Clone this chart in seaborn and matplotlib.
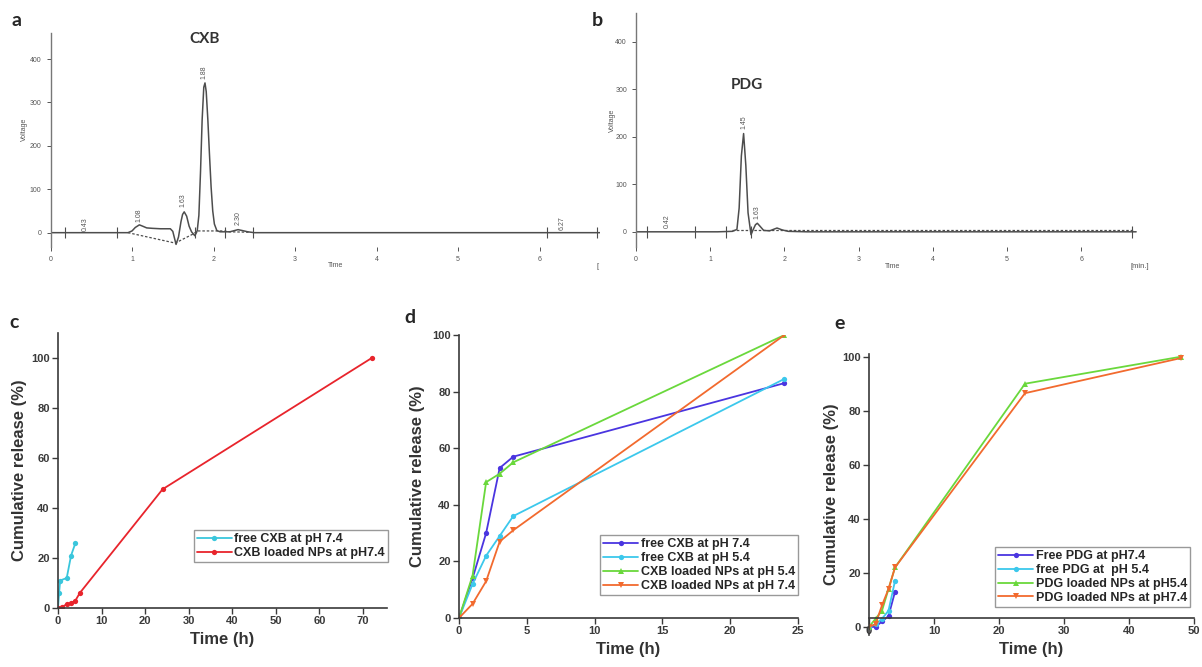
import matplotlib
matplotlib.use("Agg")
import seaborn as sns
import matplotlib.pyplot as plt

sns.set_style("ticks")
plt.rcParams['font.family'] = ['Liberation Sans', 'DejaVu Sans']

W, H = 1202, 667

# a: CXB chromatogram
cxb_time = [0, 0.95, 1.00, 1.04, 1.09, 1.13, 1.18, 1.25, 1.35, 1.47, 1.50, 1.54, 1.57, 1.60,
            1.62, 1.64, 1.67, 1.70, 1.73, 1.77, 1.79, 1.80, 1.82, 1.84, 1.86, 1.88, 1.895,
            1.91, 1.93, 1.95, 1.97, 1.99, 2.01, 2.04, 2.08, 2.20, 2.26, 2.30, 2.35, 2.42, 2.50, 6.74]
cxb_volt = [0, 0, 4, 12, 18, 15, 11, 10, 9, 9, 3, -27, -10, 25,
            42, 48, 38, 15, 2, -7, 0, 5, 40, 140, 260, 335, 345,
            325, 260, 180, 105, 50, 20, 5, 2, 2, 5, 7, 5, 2, 0, 0]
cxb_base_time = [0.95, 1.53, 1.76, 1.80, 2.12, 2.20, 2.45]
cxb_base_volt = [0, -24, -2, 4, 4, 2, 1]
cxb_marks = [0.18, 0.81, 1.77, 2.14, 2.48, 6.09, 6.70]
cxb_peaks = [0.43, 1.08, 1.63, 1.88, 2.30, 6.27]
cxb_peak_h = [5, 25, 58, 355, 17, 7]

# b: PDG chromatogram
pdg_time = [0, 1.10, 1.30, 1.36, 1.39, 1.42, 1.45, 1.48, 1.51, 1.55, 1.58, 1.61, 1.635,
            1.67, 1.72, 1.80, 1.90, 1.97, 2.05, 2.30, 6.74]
pdg_volt = [0, 0, 1, 5, 50, 160, 207, 140, 40, -6, 5, 15, 18,
            12, 3, 2, 8, 4, 1, 0, 0]
pdg_base_time = [1.30, 6.70]
pdg_base_volt = [3, 3]
pdg_marks = [0.15, 0.79, 1.21, 1.55, 6.69]
pdg_peaks = [0.42, 1.45, 1.63]
pdg_peak_h = [7, 217, 26]

# c: CXB release at pH 7.4
c_free_t = [0, 0.25, 0.5, 2, 3, 4]
c_free_y = [0, 6, 11, 12, 21, 26]
c_np_t = [0, 1, 2, 3, 4, 5, 24, 72]
c_np_y = [0, 0.5, 1.5, 2, 3, 6, 47.5, 100]

# d: CXB release at two pH
d_t = [0, 1, 2, 3, 4, 24]
d_free_74 = [0, 14, 30, 53, 57, 83]
d_free_54 = [0, 12, 22, 29, 36, 84.5]
d_np_54 = [0, 15, 48, 51, 55, 100]
d_np_74 = [0, 5, 13, 27, 31, 100]

# e: PDG release
e_free_t = [0, 1, 2, 3, 4]
e_free_74 = [0, 0, 2, 4, 13]
e_free_54 = [0, 1, 3, 6, 17]
e_np_t = [0, 1, 2, 3, 4, 24, 48]
e_np_54 = [0, 3, 6, 14, 22, 90, 100]
e_np_74 = [0, 1, 8, 14, 22, 86.5, 99.5]

BLUE, CYAN, GREEN, ORANGE, RED = '#4a35e0', '#3cc8ec', '#6ad83c', '#f26a2e', '#e8242c'
GREYLINE = '#4d4d4d'


def box(left, top, right, bottom):
    return [left / W, 1 - bottom / H, (right - left) / W, (bottom - top) / H]


fig = plt.figure(figsize=(W / 100, H / 100), dpi=100)


def chromatogram(ax, t, v, bt, bv, marks, peaks, heights, xmax, ymin, ymax):
    sns.lineplot(x=t, y=v, ax=ax, color=GREYLINE, lw=1.1, estimator=None, sort=False)
    sns.lineplot(x=bt, y=bv, ax=ax, color=GREYLINE, lw=0.9, estimator=None, sort=False,
                 linestyle=(0, (2, 1.5)))
    ax.vlines(marks, -12, 12, color=GREYLINE, lw=0.8)
    for p, h in zip(peaks, heights):
        ax.text(p, h, f"{p:.2f}", rotation=90, ha='center', va='bottom', fontsize=5, color='#555')
    ax.set_xlim(0, xmax)
    ax.set_ylim(ymin, ymax)
    ax.set_xticks(range(7))
    ax.set_yticks([0, 100, 200, 300, 400])
    for s in ['top', 'right', 'bottom']:
        ax.spines[s].set_visible(False)
    ax.spines['left'].set_color('#777')
    ax.spines['left'].set_linewidth(1.0)
    ax.tick_params(labelsize=5, colors='#555', length=3, width=0.7)
    ax.set_xlabel('Time', fontsize=5, color='#555')
    ax.set_ylabel('Voltage', fontsize=5, color='#555')


ax_a = fig.add_axes(box(50.5, 33, 600, 247))
chromatogram(ax_a, cxb_time, cxb_volt, cxb_base_time, cxb_base_volt, cxb_marks,
             cxb_peaks, cxb_peak_h, 6.74, -33, 460)
ax_a.text(1.89, 446, 'CXB', ha='center', va='center', fontsize=11, fontweight='bold',
          color='#333', family=['Lato', 'DejaVu Sans'])
ax_a.xaxis.set_label_coords(0.518, -0.07)
ax_a.yaxis.set_label_coords(-0.041, 0.55)

ax_b = fig.add_axes(box(636, 13, 1140.6, 247))
chromatogram(ax_b, pdg_time, pdg_volt, pdg_base_time, pdg_base_volt, pdg_marks,
             pdg_peaks, pdg_peak_h, 6.8, -32, 461)
ax_b.text(1.5, 309, 'PDG', ha='center', va='center', fontsize=11, fontweight='bold',
          color='#333', family=['Lato', 'DejaVu Sans'])
ax_b.xaxis.set_label_coords(0.509, -0.07)
ax_b.yaxis.set_label_coords(-0.039, 0.54)
fig.text(1139.6 / W, 1 - 267 / H, '[min.]', fontsize=5.5, color='#555', ha='center', va='center')
fig.text(598 / W, 1 - 267 / H, '[', fontsize=5.5, color='#555', ha='center', va='center')


def release_axes(ax, xlim, ylim, xticks, bottom_at=None):
    ax.set_xlim(*xlim)
    ax.set_ylim(*ylim)
    sns.despine(ax=ax)
    if bottom_at is not None:
        ax.spines['bottom'].set_position(('data', bottom_at))
    ax.set_xticks(xticks)
    ax.set_yticks([0, 20, 40, 60, 80, 100])
    for s in ['left', 'bottom']:
        ax.spines[s].set_color('#3a3a3a')
        ax.spines[s].set_linewidth(1.2)
    ax.tick_params(labelsize=8, colors='#3a3a3a', length=4, width=1, pad=2)
    ax.set_xlabel('Time (h)', fontsize=12, fontweight='bold', color='#333')
    ax.set_ylabel('Cumulative release (%)', fontsize=12, fontweight='bold', color='#333')


def legend(ax, anchor):
    ax.legend(loc='lower right', bbox_to_anchor=anchor, borderaxespad=0,
              prop={'weight': 'bold', 'size': 9}, frameon=True, fancybox=False,
              edgecolor='#999', framealpha=1, handlelength=2.8, handletextpad=0.2,
              labelspacing=0.15, borderpad=0.25)


line_kw = dict(lw=1.3, markersize=3.8, markeredgewidth=0, estimator=None, sort=False)

# c
ax_c = fig.add_axes(box(58, 333, 387, 608))
sns.lineplot(x=c_free_t, y=c_free_y, ax=ax_c, color='#39c6dc', marker='o',
             label='free CXB at pH 7.4', **line_kw)
sns.lineplot(x=c_np_t, y=c_np_y, ax=ax_c, color=RED, marker='o',
             label='CXB loaded NPs at pH7.4', **line_kw)
release_axes(ax_c, (0, 75.5), (0, 110), range(0, 71, 10))
legend(ax_c, (1.003, 0.167))

# d
ax_d = fig.add_axes(box(459, 335, 798, 618))
sns.lineplot(x=d_t, y=d_free_74, ax=ax_d, color=BLUE, marker='o', label='free CXB at pH 7.4', **line_kw)
sns.lineplot(x=d_t, y=d_free_54, ax=ax_d, color=CYAN, marker='o', label='free CXB at pH 5.4', **line_kw)
sns.lineplot(x=d_t, y=d_np_54, ax=ax_d, color=GREEN, marker='^', label='CXB loaded NPs at pH 5.4', **line_kw)
sns.lineplot(x=d_t, y=d_np_74, ax=ax_d, color=ORANGE, marker='v', label='CXB loaded NPs at pH 7.4', **line_kw)
release_axes(ax_d, (0, 25), (0, 100), range(0, 26, 5))
legend(ax_d, (1.0, 0.081))

# e
ax_e = fig.add_axes(box(869, 354, 1194, 635))
sns.lineplot(x=e_free_t, y=e_free_74, ax=ax_e, color=BLUE, marker='o', label='Free PDG at pH7.4', **line_kw)
sns.lineplot(x=e_free_t, y=e_free_54, ax=ax_e, color=CYAN, marker='o', label='free PDG at  pH 5.4', **line_kw)
sns.lineplot(x=e_np_t, y=e_np_54, ax=ax_e, color=GREEN, marker='^', label='PDG loaded NPs at pH5.4', **line_kw)
sns.lineplot(x=e_np_t, y=e_np_74, ax=ax_e, color=ORANGE, marker='v', label='PDG loaded NPs at pH7.4', **line_kw)
release_axes(ax_e, (0, 50), (-3, 101), range(0, 51, 10), bottom_at=3.3)
legend(ax_e, (0.988, 0.10))

ax_c.yaxis.set_label_coords(-0.094, 0.5)
ax_d.yaxis.set_label_coords(-0.10, 0.5)
ax_e.yaxis.set_label_coords(-0.092, 0.5)

# panel letters
for letter, (px, py) in {'a': (16, 20), 'b': (597, 20), 'c': (14, 322),
                         'd': (410, 318), 'e': (840, 323)}.items():
    fig.text(px / W, 1 - py / H, letter, fontsize=14, fontweight='bold', ha='center',
             va='center', family=['Lato', 'DejaVu Sans'])

# bold tick labels once the ticks exist
fig.canvas.draw()
for ax in (ax_c, ax_d, ax_e):
    for lab in ax.get_xticklabels() + ax.get_yticklabels():
        lab.set_fontweight('bold')

fig.savefig('out.png', dpi=100)
